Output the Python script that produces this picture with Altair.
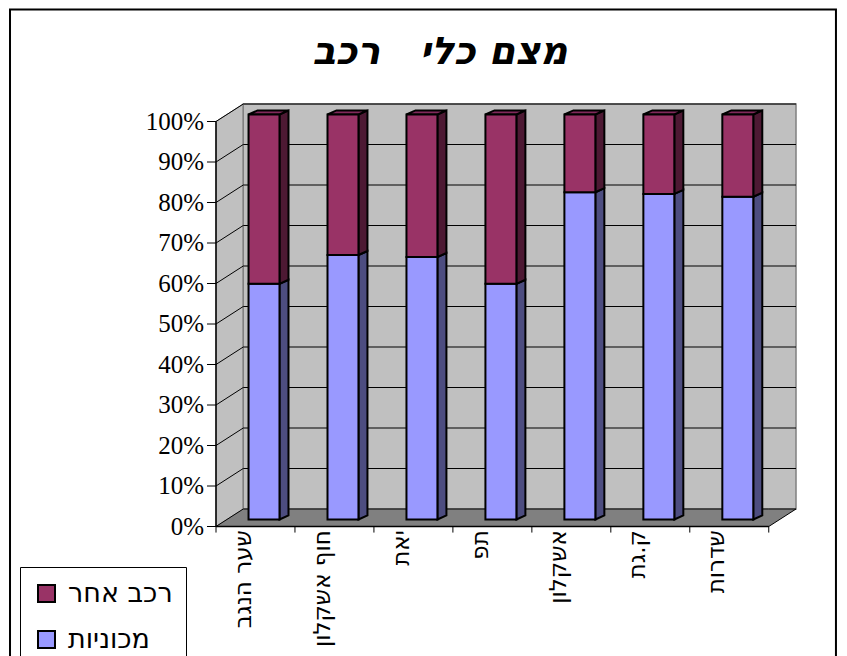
import altair as alt
import pandas as pd

# ---------------- data ----------------
categories = ["שער הנגב", "חוף אשקלון", "יאת", "תפ", "אשקלון", "ק.גת", "שדרות"]
cars_pct = [58.2, 65.3, 64.8, 58.2, 80.8, 80.4, 79.7]      # מכוניות
other_pct = [41.8, 34.7, 35.2, 41.8, 19.2, 19.6, 20.3]     # רכב אחר
series_names = ["רכב אחר", "מכוניות"]
front_colors = ["#993366", "#9999ff"]
side_colors = ["#4d1933", "#4d4d80"]
top_color = "#80295a"
y_tick_values = [0, 10, 20, 30, 40, 50, 60, 70, 80, 90, 100]
title_text = "מצם כלי\u00a0\u00a0 רכב"

# ---------------- geometry (pseudo-3D, in scale units) ----------------
N = len(categories)
X_DOMAIN = [0, 7.345]
Y_DOMAIN = [0, 104.2]
BAR_L, BAR_R = 0.412, 0.804
SIDE_DX, SIDE_DY = 0.114, 1.0
BASE = 1.73
DEPTH_X, DEPTH_Y = 0.345, 4.32
Y_TICK_LEN = 0.114
X_TICK_LEN = 1.5
FRAME = dict(x=-2.6086, x2=7.851, y=127.65, y2=-45.0)

xs = alt.Scale(domain=X_DOMAIN, nice=False, zero=False)
ys = alt.Scale(domain=Y_DOMAIN, nice=False, zero=False)

front_rows, face_rows = [], []
for i, (c, o) in enumerate(zip(cars_pct, other_pct)):
    segs = [(series_names[1], BASE, BASE + c, side_colors[1]),
            (series_names[0], BASE + c, BASE + c + o, side_colors[0])]
    for k, (s, lo, hi, sc) in enumerate(segs):
        front_rows.append(dict(cat=categories[i], series=s, x=i + BAR_L, x2=i + BAR_R, y=lo, y2=hi))
        fid = f"side{i}_{k}"
        face_rows.append(dict(face=fid, fill=sc, x=i + BAR_R, lo=lo, hi=hi))
        face_rows.append(dict(face=fid, fill=sc, x=i + BAR_R + SIDE_DX, lo=lo + SIDE_DY, hi=hi + SIDE_DY))
    top = BASE + c + o
    fid = f"top{i}"
    face_rows.append(dict(face=fid, fill=top_color, x=i + BAR_L, lo=top, hi=top))
    face_rows.append(dict(face=fid, fill=top_color, x=i + BAR_L + SIDE_DX, lo=top, hi=top + SIDE_DY))
    face_rows.append(dict(face=fid, fill=top_color, x=i + BAR_R, lo=top, hi=top + SIDE_DY))
    face_rows.append(dict(face=fid, fill=top_color, x=i + BAR_R + SIDE_DX, lo=top + SIDE_DY, hi=top + SIDE_DY))

front_df = pd.DataFrame(front_rows)
faces_df = pd.DataFrame(face_rows)
frame_df = pd.DataFrame([FRAME])
left_wall_df = pd.DataFrame([dict(x=0, lo=0, hi=100), dict(x=DEPTH_X, lo=DEPTH_Y, hi=100 + DEPTH_Y)])
floor_df = pd.DataFrame([dict(x=0, lo=0, hi=0), dict(x=DEPTH_X, lo=0, hi=DEPTH_Y),
                         dict(x=N, lo=0, hi=DEPTH_Y), dict(x=N + DEPTH_X, lo=DEPTH_Y, hi=DEPTH_Y)])
back_wall_df = pd.DataFrame([dict(x=DEPTH_X, x2=N + DEPTH_X, y=DEPTH_Y, y2=100 + DEPTH_Y)])
grid_rows = []
for v in y_tick_values[1:]:
    grid_rows += [dict(g=v, x=0, y=v), dict(g=v, x=DEPTH_X, y=v + DEPTH_Y),
                  dict(g=v, x=N + DEPTH_X, y=v + DEPTH_Y)]
grid_df = pd.DataFrame(grid_rows)
axis_df = pd.DataFrame([dict(x=0, x2=0, y=0, y2=100), dict(x=0, x2=N, y=0, y2=0)])
ytick_df = pd.DataFrame(dict(v=y_tick_values))
xtick_df = pd.DataFrame(dict(u=list(range(N + 1))))
label_df = pd.DataFrame(dict(idx=list(range(N)), cat=categories))

frame = alt.Chart(frame_df).mark_rect(fillOpacity=0, stroke="black", strokeWidth=2).encode(
    x=alt.X("x:Q", scale=xs, axis=None), x2="x2:Q",
    y=alt.Y("y:Q", scale=ys, axis=None), y2="y2:Q")

left_wall = alt.Chart(left_wall_df).mark_area(fill="#c0c0c0", stroke="#808080", strokeWidth=1).encode(
    x=alt.X("x:Q", scale=xs, axis=None),
    y=alt.Y("lo:Q", scale=ys, axis=None),
    y2="hi:Q")

back_wall = alt.Chart(back_wall_df).mark_rect(fill="#c0c0c0", stroke="#808080", strokeWidth=1.5).encode(
    x=alt.X("x:Q", scale=xs, axis=None), x2="x2:Q",
    y=alt.Y("y:Q", scale=ys, axis=None), y2="y2:Q")

floor = alt.Chart(floor_df).mark_area(fill="#808080", stroke="black", strokeWidth=1).encode(
    x=alt.X("x:Q", scale=xs, axis=None),
    y=alt.Y("lo:Q", scale=ys, axis=None),
    y2="hi:Q")

grid = alt.Chart(grid_df).mark_line(color="black", strokeWidth=1).encode(
    x=alt.X("x:Q", scale=xs, axis=None),
    y=alt.Y("y:Q", scale=ys, axis=None),
    detail="g:N")

faces = alt.Chart(faces_df).mark_area(stroke="black", strokeWidth=2, opacity=1).encode(
    x=alt.X("x:Q", scale=xs, axis=None),
    y=alt.Y("lo:Q", scale=ys, axis=None),
    y2="hi:Q",
    fill=alt.Fill("fill:N", scale=None),
    detail="face:N")

fronts = alt.Chart(front_df).mark_rect(stroke="black", strokeWidth=2, opacity=1).encode(
    x=alt.X("x:Q", scale=xs, axis=None), x2="x2:Q",
    y=alt.Y("y:Q", scale=ys, axis=None), y2="y2:Q",
    color=alt.Color("series:N",
                    scale=alt.Scale(domain=series_names, range=front_colors),
                    legend=alt.Legend(orient="none", legendX=-196, legendY=462.5, title=None,
                                      strokeColor="black", fillColor="white", padding=13,
                                      symbolType="square", symbolSize=289,
                                      symbolStrokeColor="black", symbolStrokeWidth=2,
                                      symbolOpacity=1,
                                      labelFont="DejaVu Sans", labelFontSize=27,
                                      labelColor="black", rowPadding=18, labelOffset=8,
                                      labelLimit=400)))

axis_lines = alt.Chart(axis_df).mark_rule(color="black", strokeWidth=1.5).encode(
    x=alt.X("x:Q", scale=xs, axis=None), x2="x2:Q",
    y=alt.Y("y:Q", scale=ys, axis=None), y2="y2:Q")

yticks = alt.Chart(ytick_df).transform_calculate(
    x0="0", x1=f"-{Y_TICK_LEN}").mark_rule(color="black", strokeWidth=1).encode(
    x=alt.X("x1:Q", scale=xs, axis=None), x2="x0:Q",
    y=alt.Y("v:Q", scale=ys, axis=None))

ylabels = alt.Chart(ytick_df).transform_calculate(
    x0="0", lbl="datum.v + '%'").mark_text(
    align="right", baseline="middle", dx=-12, font="Liberation Serif", fontSize=25, color="black"
).encode(
    x=alt.X("x0:Q", scale=xs, axis=None),
    y=alt.Y("v:Q", scale=ys, axis=None),
    text="lbl:N")

xticks = alt.Chart(xtick_df).transform_calculate(
    y0="0", y1=f"-{X_TICK_LEN}").mark_rule(color="black", strokeWidth=1).encode(
    x=alt.X("u:Q", scale=xs, axis=None),
    y=alt.Y("y1:Q", scale=ys, axis=None), y2="y0:Q")

labels = alt.Chart(label_df).transform_calculate(lx="datum.idx + 0.35", ly="-0.9").mark_text(
    angle=270, align="right", baseline="middle", font="DejaVu Sans", fontSize=23, color="black"
).encode(
    x=alt.X("lx:Q", scale=xs, axis=None),
    y=alt.Y("ly:Q", scale=ys, axis=None),
    text="cat:N")

chart = alt.layer(frame, left_wall, back_wall, floor, grid, faces, fronts, axis_lines,
                  yticks, ylabels, xticks, labels).properties(
    width=580, height=422,
    title=alt.TitleParams(text=title_text, font="DejaVu Sans", fontSize=38, fontWeight="bold",
                          fontStyle="italic", anchor="middle", dx=-66, dy=93, offset=0,
                          baseline="alphabetic", color="black", frame="group"),
    autosize=alt.AutoSizeParams(type="none"),
    padding={"left": 208, "top": 96.5, "right": 42, "bottom": 150},
).resolve_scale(color="independent", fill="independent").configure_view(
    strokeWidth=0, fill="transparent")

chart.save("out.html", embed_options={"renderer": "svg", "actions": False})
